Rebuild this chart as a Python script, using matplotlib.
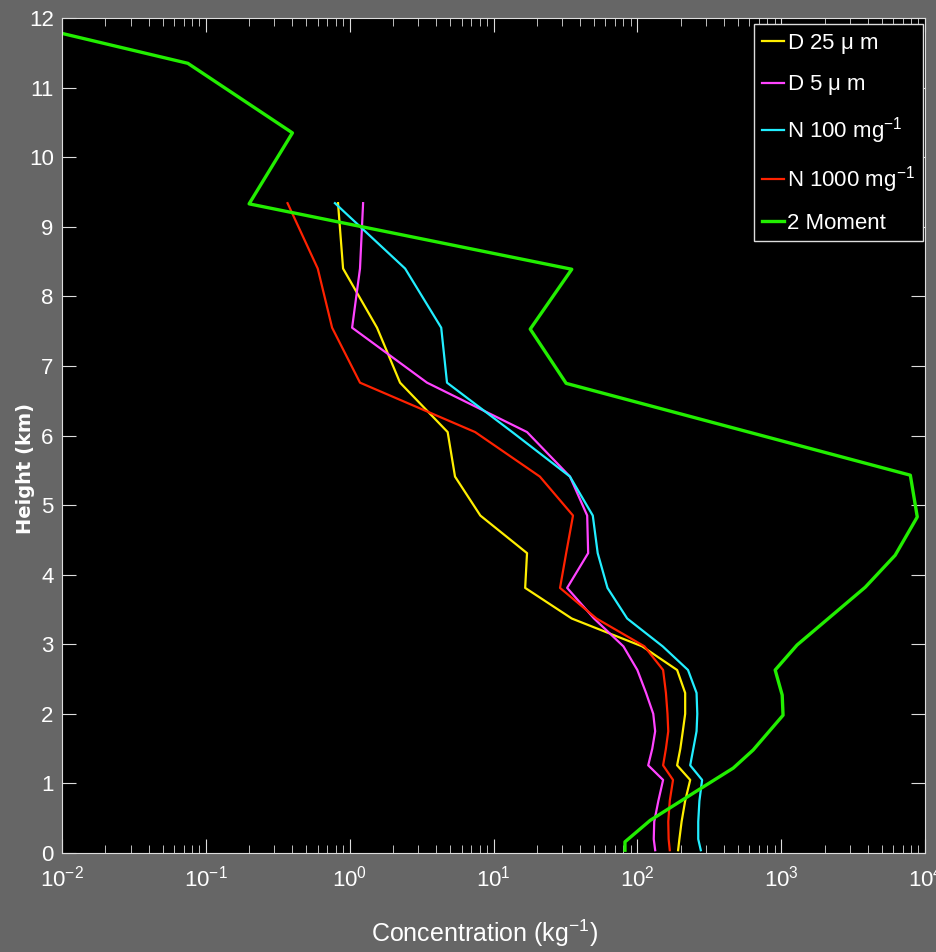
import matplotlib
matplotlib.use('Agg')
import matplotlib.pyplot as plt

# heights (km) shared by the four bin/number runs
height = [0.04, 0.2, 0.45, 0.75, 1.05, 1.26, 1.5, 1.75, 2.0, 2.3, 2.63,
          2.97, 3.37, 3.81, 4.31, 4.85, 5.41, 6.05, 6.76, 7.55, 8.40, 9.34]

d25 = [192, 196, 203, 215, 233, 189, 199, 207, 215, 215, 189,
       108, 35, 16.6, 17.1, 8.1, 5.4, 4.8, 2.24, 1.55, 0.90, 0.83]
d5 = [133, 130, 131, 140, 151, 119, 127, 133, 129, 115, 100,
      80, 50, 32.5, 45.5, 44.8, 34, 17.1, 3.45, 1.04, 1.18, 1.24]
n100 = [276, 265, 265, 270, 282, 233, 245, 258, 261, 258, 225,
        150, 85, 62, 53, 49, 34, 13.5, 4.75, 4.33, 2.43, 0.79]
n1000 = [168, 165, 164, 168, 177, 151, 158, 164, 162, 158, 151,
         112, 52, 29, 32, 35.7, 21, 7.45, 1.18, 0.755, 0.60, 0.37]

# 2 moment run has its own levels
height_2m = [0.04, 0.16, 0.47, 0.95, 1.22, 1.48, 1.98, 2.27, 2.63, 2.99,
             3.82, 4.28, 4.83, 5.43, 6.75, 7.53, 8.39, 9.33, 10.35, 11.35, 11.78]
mom2 = [82, 82, 123, 287, 464, 638, 1030, 1016, 908, 1290,
        3840, 6200, 8830, 7900, 32, 18, 35, 0.20, 0.40, 0.075, 0.01]

labels = ['D 25 $\\mu$ m', 'D 5 $\\mu$ m', 'N 100 mg$^{-1}$', 'N 1000 mg$^{-1}$', '2 Moment']

plt.rcParams['font.family'] = ['Liberation Sans', 'DejaVu Sans']
plt.rcParams['mathtext.fontset'] = 'custom'
plt.rcParams['mathtext.rm'] = 'Liberation Sans'
plt.rcParams['mathtext.it'] = 'Liberation Sans'

fig = plt.figure(figsize=(9.36, 9.52), dpi=100, facecolor='#666666')
ax = fig.add_axes([0.0662, 0.104, 0.9221, 0.877])
ax.set_facecolor('black')

ax.plot(d25, height, color='#ffee00', lw=1.6, label=labels[0])
ax.plot(d5, height, color='#ff44ff', lw=1.6, label=labels[1])
ax.plot(n100, height, color='#22eeff', lw=1.6, label=labels[2])
ax.plot(n1000, height, color='#ff2200', lw=1.6, label=labels[3])
ax.plot(mom2, height_2m, color='#22ee00', lw=2.4, label=labels[4])

ax.set_xscale('log')
ax.set_xlim(1e-2, 1e4)
ax.set_ylim(0, 12)
ax.set_yticks(range(0, 13))

ax.tick_params(which='both', direction='in', top=True, right=True,
               colors='#dddddd', labelcolor='white', labelsize=16)
ax.tick_params(which='major', length=10)
ax.tick_params(which='minor', length=6)
ax.tick_params(axis='x', pad=9)
ax.tick_params(axis='y', pad=6)
for s in ax.spines.values():
    s.set_color('#dddddd')

ax.set_xlabel('Concentration (kg$^{-1}$)', color='white', fontsize=18)
ax.xaxis.set_label_coords(0.49, -0.077)
ax.set_ylabel('Height (km)', color='white', fontsize=14, fontweight='bold',
              family=['DejaVu Sans'])
ax.yaxis.set_label_coords(-0.031, 0.46)

leg = ax.legend(loc='upper right', bbox_to_anchor=(0.9975, 0.993), borderaxespad=0,
                fontsize=16, frameon=True, fancybox=False,
                handlelength=1.0, handletextpad=0.15, borderpad=0.35,
                labelspacing=0.8)
leg.get_frame().set_facecolor('black')
leg.get_frame().set_edgecolor('#dddddd')
leg.get_frame().set_alpha(1)
for t in leg.get_texts():
    t.set_color('white')

fig.savefig('out.png', dpi=100, facecolor=fig.get_facecolor())
